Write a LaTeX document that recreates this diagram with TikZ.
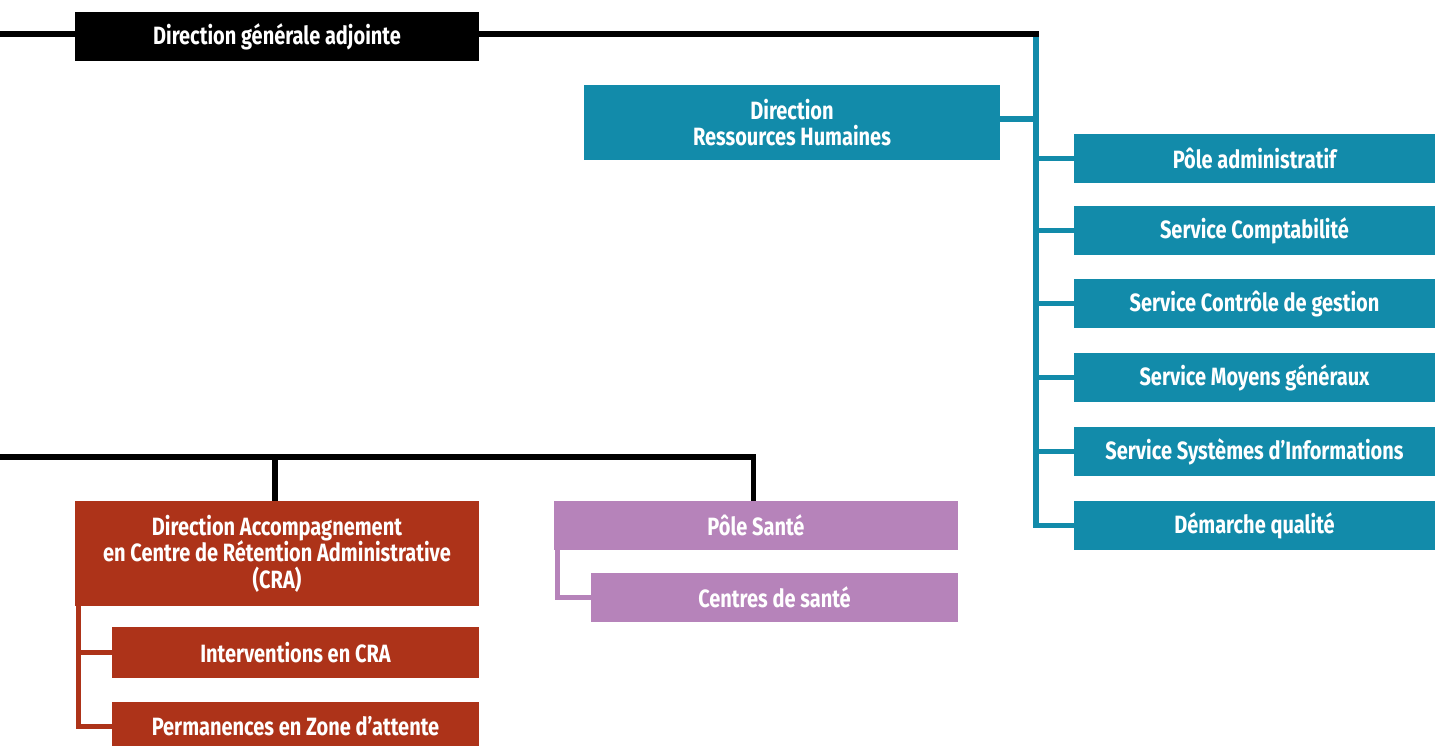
\documentclass[tikz,border=0pt]{standalone}
\usepackage{fontspec}
\setmainfont{Fira Sans}[FakeStretch=0.8]
\definecolor{tealc}{HTML}{128BAA}
\definecolor{rustc}{HTML}{AD3319}
\definecolor{purpc}{HTML}{B683BA}
\begin{document}
\begin{tikzpicture}[x=1pt,y=-1pt,
  box/.style={rectangle, inner sep=0pt, outer sep=0pt, anchor=north west, text=white,
    font=\fontsize{25}{26.5}\selectfont\bfseries, align=center},
  blackbox/.style={box, fill=black},
  tealbox/.style={box, fill=tealc},
  rustbox/.style={box, fill=rustc},
  purpbox/.style={box, fill=purpc},
  blk/.style={draw=black, line width=5.5pt},
  tealline/.style={draw=tealc, line width=5.5pt},
  rustline/.style={draw=rustc, line width=5pt},
  purpline/.style={draw=purpc, line width=5pt}]
\useasboundingbox[fill=white] (0,0) rectangle (1435,745);

% top
\node[blackbox, minimum width=404pt, minimum height=49pt] (dga) at (75,12) {Direction générale adjointe};
\node[tealbox, minimum width=416pt, minimum height=75pt] (drh) at (584,85) {Direction\\Ressources Humaines};
\node[tealbox, minimum width=361pt, minimum height=49pt] (pa) at (1074,134) {Pôle administratif};
\node[tealbox, minimum width=361pt, minimum height=49pt] (sc) at (1074,206) {Service Comptabilité};
\node[tealbox, minimum width=361pt, minimum height=49pt] (scg) at (1074,279) {Service Contrôle de gestion};
\node[tealbox, minimum width=361pt, minimum height=49pt] (smg) at (1074,353) {Service Moyens généraux};
\node[tealbox, minimum width=361pt, minimum height=49pt] (ssi) at (1074,427) {Service Systèmes d’Informations};
\node[tealbox, minimum width=361pt, minimum height=49pt] (dq) at (1074,501) {Démarche qualité};

% bottom
\node[rustbox, minimum width=404pt, minimum height=105pt] (cra) at (75,501) {Direction Accompagnement\\en Centre de Rétention Administrative\\(CRA)};
\node[rustbox, minimum width=367pt, minimum height=51pt] (ic) at (112,627) {Interventions en CRA};
\node[rustbox, minimum width=367pt, minimum height=49pt] (pze) at (112,702) {Permanences en Zone d’attente};
\node[purpbox, minimum width=404pt, minimum height=49pt] (ps) at (554,501) {Pôle Santé};
\node[purpbox, minimum width=367pt, minimum height=49pt] (cs) at (591,573) {Centres de santé};

% coordinates
\coordinate (lft) at (0,34);
\coordinate (tr) at (1039,34);
\coordinate (tt) at (1036,31.5);
\coordinate (bl) at (0,457);
\coordinate (bm) at (275,457);
\coordinate (br) at (753.5,457);

% connectors top
\draw[blk] (lft) -- (lft -| dga.west);
\draw[tealline] (tt) |- (dq.west);
\draw[blk] (tr -| dga.east) -- (tr);
\draw[tealline] ([yshift=3.5pt]drh.east) -- ([yshift=3.5pt]drh.east -| tt);
\foreach \n in {pa,sc,scg,smg,ssi}{
  \draw[tealline] (\n.west) -- (\n.west -| tt);
}

% connectors bottom
\draw[blk] (bl) -- (br) -- (br |- ps.north);
\draw[blk] (bm) -- (bm |- cra.north);
\draw[rustline] ([xshift=3pt]cra.south west) |- (pze.west);
\draw[rustline] ([xshift=3pt]cra.south west |- ic.west) -- (ic.west);
\draw[purpline] ([xshift=3pt]ps.south west) |- (cs.west);
\end{tikzpicture}
\end{document}
